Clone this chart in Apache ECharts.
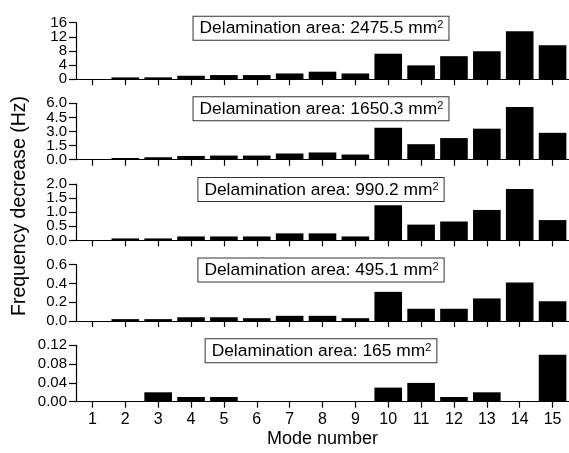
<!DOCTYPE html>
<html>
<head>
<meta charset="utf-8">
<script src="https://cdn.jsdelivr.net/npm/echarts@6/dist/echarts.min.js"></script>
<style>
  html, body { margin: 0; padding: 0; background: #fff; }
  #chart { width: 569px; height: 453px; }
</style>
</head>
<body>
<div id="chart"></div>
<script>
// Mode numbers along the shared x axis
var modes = ['1', '2', '3', '4', '5', '6', '7', '8', '9', '10', '11', '12', '13', '14', '15'];

// Frequency decrease (Hz) per mode, one array per delamination area
var area2475 = [0, 0.48, 0.5, 0.95, 1.14, 1.14, 1.6, 2.1, 1.6, 7.2, 3.9, 6.5, 7.9, 13.6, 9.6];
var area1650 = [0, 0.18, 0.26, 0.4, 0.44, 0.44, 0.66, 0.77, 0.55, 3.4, 1.65, 2.3, 3.3, 5.6, 2.86];
var area990  = [0, 0.07, 0.07, 0.14, 0.14, 0.14, 0.25, 0.25, 0.14, 1.25, 0.56, 0.67, 1.08, 1.82, 0.72];
var area495  = [0, 0.02, 0.02, 0.04, 0.04, 0.03, 0.055, 0.055, 0.03, 0.31, 0.13, 0.13, 0.24, 0.41, 0.21];
var area165  = [0, 0, 0.02, 0.01, 0.01, 0, 0, 0, 0, 0.03, 0.04, 0.01, 0.02, 0, 0.10];

// Value-axis tick labels, top panel first
var ticks2475 = ['0', '4', '8', '12', '16'];
var ticks1650 = ['0.0', '1.5', '3.0', '4.5', '6.0'];
var ticks990  = ['0.0', '0.5', '1.0', '1.5', '2.0'];
var ticks495  = ['0.0', '0.2', '0.4', '0.6'];
var ticks165  = ['0.00', '0.04', '0.08', '0.12'];

// Panel captions (mm^2) and value-axis ranges, top panel first
var areaLabels = ['2475.5', '1650.3', '990.2', '495.1', '165'];
var yMax = [16, 6, 2, 0.6, 0.12];
var yStep = [4, 1.5, 0.5, 0.2, 0.04];

var panels = [area2475, area1650, area990, area495, area165];
var panelTicks = [ticks2475, ticks1650, ticks990, ticks495, ticks165];

var FONT = '"Liberation Sans", Arial, Helvetica, sans-serif';
var gridTops = [22.7, 103.3, 184, 264.6, 345.3];
var gridHeight = 56.4;
var LABEL_GAP = 9;

var grids = [], xAxes = [], yAxes = [], series = [], graphics = [];

panels.forEach(function (values, i) {
  var last = i === panels.length - 1;
  grids.push({ left: 76, right: 0, top: gridTops[i], height: gridHeight, containLabel: false });
  xAxes.push({
    type: 'category',
    gridIndex: i,
    data: modes,
    boundaryGap: true,
    axisLine: { show: true, lineStyle: { color: '#000', width: 1.2 } },
    axisTick: { show: true, alignWithLabel: true, interval: 0, length: 6, lineStyle: { color: '#000', width: 1.2 } },
    axisLabel: { show: last, interval: 0, color: '#000', fontSize: 16, fontFamily: FONT, margin: 10 },
    splitLine: { show: false },
    name: last ? 'Mode number' : '',
    nameLocation: 'middle',
    nameGap: 28,
    nameTextStyle: { color: '#000', fontSize: 18, fontFamily: FONT }
  });
  yAxes.push({
    type: 'value',
    gridIndex: i,
    min: 0,
    max: yMax[i],
    interval: yStep[i],
    axisLine: { show: true, lineStyle: { color: '#000', width: 1.2 } },
    axisTick: { show: true, length: 7, lineStyle: { color: '#000', width: 1.2 } },
    // labels are drawn below as graphic text so the dense ones are not thinned out
    axisLabel: { show: false },
    splitLine: { show: false }
  });
  series.push({
    type: 'bar',
    xAxisIndex: i,
    yAxisIndex: i,
    data: values,
    barCategoryGap: '16%',
    itemStyle: { color: '#000' },
    silent: true
  });
  // Caption box for each panel
  graphics.push({
    type: 'text',
    x: 321,
    y: gridTops[i] + 5.5,
    style: {
      text: '{t|Delamination area: ' + areaLabels[i] + ' mm}{s|2}',
      align: 'center',
      verticalAlign: 'middle',
      fill: '#000',
      backgroundColor: '#fff',
      borderColor: '#333',
      borderWidth: 1,
      padding: [3, 5, 2, 6],
      rich: {
        t: { fontSize: 17.4, fontFamily: FONT, lineHeight: 18, fill: '#000' },
        s: { fontSize: 11, fontFamily: FONT, lineHeight: 11, verticalAlign: 'top', fill: '#000' }
      }
    }
  });
});

// Shared y-axis title
graphics.push({
  type: 'text',
  x: 20,
  y: 206,
  rotation: Math.PI / 2,
  style: {
    text: 'Frequency decrease (Hz)',
    font: '19.5px ' + FONT,
    align: 'center',
    verticalAlign: 'middle',
    fill: '#000'
  }
});

var chart = echarts.init(document.getElementById('chart'), null, { renderer: 'canvas' });
chart.setOption({
  animation: false,
  backgroundColor: '#fff',
  grid: grids,
  xAxis: xAxes,
  yAxis: yAxes,
  series: series
});

// Value-axis tick labels positioned through each panel's own y scale
panelTicks.forEach(function (labels, i) {
  var rect = chart.getModel().getComponent('grid', i).coordinateSystem.getRect();
  labels.forEach(function (lab) {
    var py = chart.convertToPixel({ yAxisIndex: i }, Number(lab));
    graphics.push({
      type: 'text',
      x: rect.x - LABEL_GAP,
      y: py,
      style: {
        text: lab,
        font: '15px ' + FONT,
        align: 'right',
        verticalAlign: 'middle',
        fill: '#000'
      }
    });
  });
});

chart.setOption({ graphic: graphics });
</script>
</body>
</html>
